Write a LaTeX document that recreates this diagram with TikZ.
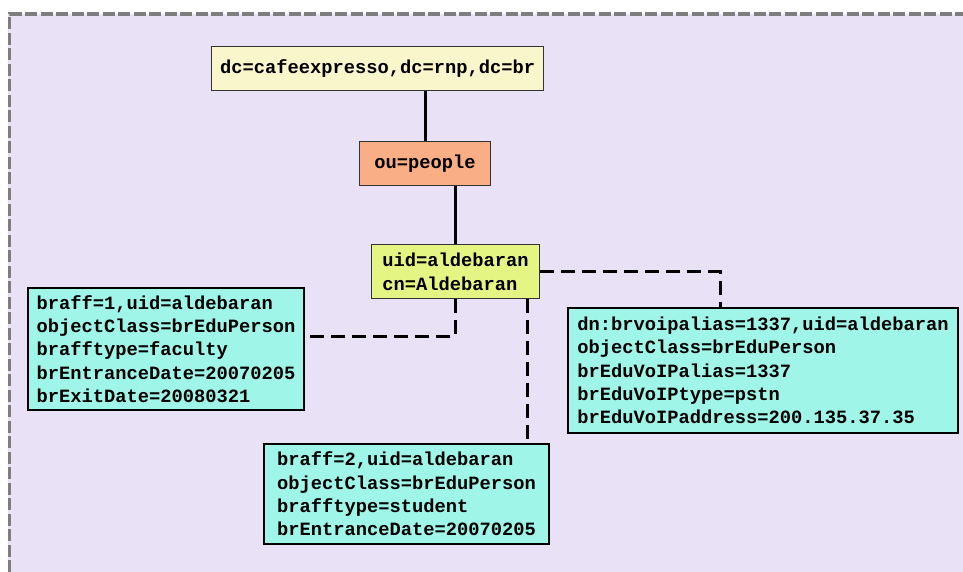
\documentclass[tikz,border=0pt]{standalone}
\usepackage{fontspec}
\setmainfont{Liberation Mono}
\definecolor{bglav}{HTML}{E9E1F6}
\definecolor{framegray}{HTML}{7E7E7E}
\definecolor{cream}{HTML}{FAF6CC}
\definecolor{salmon}{HTML}{F9AE85}
\definecolor{lime}{HTML}{E5F584}
\definecolor{aqua}{HTML}{9FF5E8}
\tikzset{
  entry/.style={draw=black, line width=1.6pt, anchor=north west, align=left,
    font=\fontsize{18.75}{23.4}\selectfont\bfseries, inner sep=0pt},
  topbox/.style={entry, draw=black!80, line width=1.2pt},
  leaf/.style={entry, fill=aqua, line width=2pt},
  tree/.style={line width=3pt},
  dashlink/.style={line width=3pt, dash pattern=on 14pt off 7pt}
}
\begin{document}
\begin{tikzpicture}[x=1pt,y=-1pt]
\useasboundingbox (0,0) rectangle (963,572);
\fill[bglav] (8,14) rectangle (963,572);
\draw[framegray, line width=3.2pt, dash pattern=on 12pt off 3.5pt] (9.5,572) -- (9.5,14) -- (963,14);

\node[topbox, fill=cream, minimum width=332pt, minimum height=44pt] (dc) at (211,46) {dc=cafeexpresso,dc=rnp,dc=br};
\node[topbox, fill=salmon, minimum width=131pt, minimum height=44pt] (ou) at (359,141) {ou=people};
\node[topbox, fill=lime, minimum width=168pt, minimum height=54pt] (uid) at (371,244) {uid=aldebaran\\cn=Aldebaran};
\node[leaf, minimum width=276pt, minimum height=122pt] (b1) at (27,287) {braff=1,uid=aldebaran\\objectClass=brEduPerson\\brafftype=faculty\\brEntranceDate=20070205\\brExitDate=20080321};
\node[leaf, minimum width=390pt, minimum height=125pt] (dn) at (567,307) {dn:brvoipalias=1337,uid=aldebaran\\objectClass=brEduPerson\\brEduVoIPalias=1337\\brEduVoIPtype=pstn\\brEduVoIPaddress=200.135.37.35};
\node[leaf, minimum width=285pt, minimum height=100pt] (b2) at (263,443) {braff=2,uid=aldebaran\\objectClass=brEduPerson\\brafftype=student\\brEntranceDate=20070205};

\coordinate (k1) at (0,336);
\coordinate (k2) at (527,0);
\coordinate (k3) at (720,0);

\draw[tree] (ou.north) -- (ou.north |- dc.south);
\draw[tree] (uid.north) -- (uid.north |- ou.south);
\draw[dashlink] (uid.south) |- (b1.east |- k1);
\draw[dashlink] (uid.south -| k2) -- (b2.north -| k2);
\draw[dashlink] (uid.east) -| (dn.north -| k3);
\end{tikzpicture}
\end{document}
